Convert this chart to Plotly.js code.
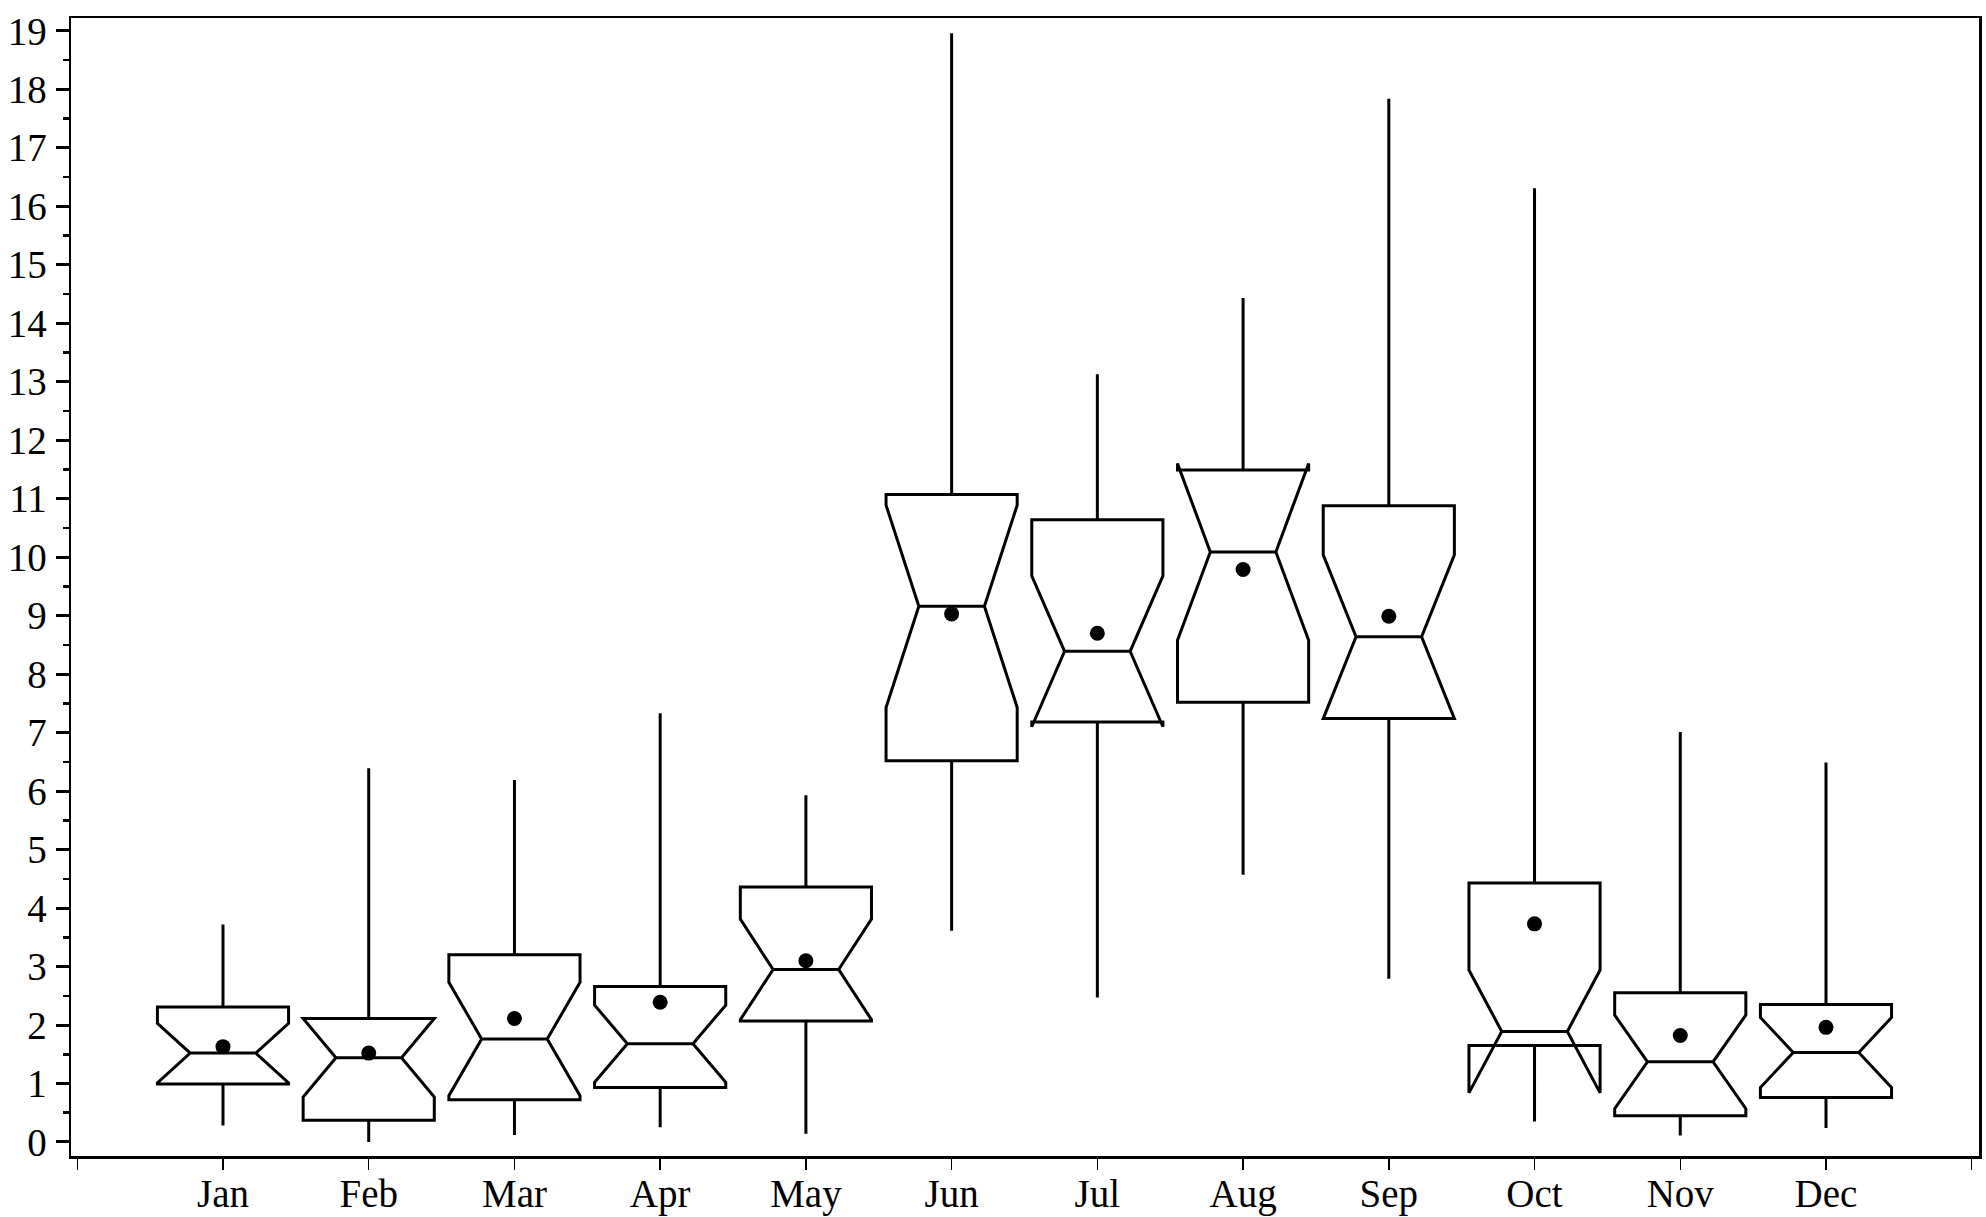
<!DOCTYPE html>
<html>
<head>
<meta charset="utf-8">
<script src="https://cdn.plot.ly/plotly-3.0.1.min.js"></script>
<style>
  html, body { margin: 0; padding: 0; background: #fff; }
  #chart { width: 1986px; height: 1217px; }
</style>
</head>
<body>
<div id="chart"></div>
<script>
// monthly box statistics
var months = ['Jan', 'Feb', 'Mar', 'Apr', 'May', 'Jun', 'Jul', 'Aug', 'Sep', 'Oct', 'Nov', 'Dec'];
var monthPos = [1, 2, 3, 4, 5, 6, 7, 8, 9, 10, 11, 12];
var q1Vals     = [0.99, 0.37, 0.72, 0.93, 2.07, 6.52, 7.18, 7.52, 7.24, 1.65, 0.45, 0.76];
var medianVals = [1.52, 1.44, 1.76, 1.68, 2.95, 9.16, 8.39, 10.09, 8.64, 1.89, 1.37, 1.53];
var q3Vals     = [2.31, 2.11, 3.20, 2.66, 4.36, 11.07, 10.64, 11.49, 10.88, 4.43, 2.55, 2.35];
var lowVals    = [0.28, 0.00, 0.12, 0.25, 0.14, 3.61, 2.47, 4.57, 2.79, 0.35, 0.11, 0.24];
var highVals   = [3.72, 6.39, 6.19, 7.33, 5.93, 18.96, 13.13, 14.43, 17.84, 16.31, 7.01, 6.49];
var notchVals  = [0.51, 0.67, 0.97, 0.66, 0.86, 1.73, 1.29, 1.51, 1.40, 1.05, 0.80, 0.60];
var meanVals   = [1.63, 1.52, 2.11, 2.39, 3.10, 9.03, 8.70, 9.79, 8.99, 3.73, 1.82, 1.96];

// tick labels: blank ticks at both ends of the axis
var xTickVals = [0].concat(monthPos, [13]);
var xTickText = [''].concat(months, ['']);
var yTickVals = [];
for (var i = 0; i <= 19; i++) {
  yTickVals.push(i);
}

var boxes = {
  type: 'box',
  x: monthPos,
  q1: q1Vals,
  median: medianVals,
  q3: q3Vals,
  lowerfence: lowVals,
  upperfence: highVals,
  notchspan: notchVals,
  notched: true,
  notchwidth: 0.25,
  width: 0.9,
  whiskerwidth: 0,
  boxpoints: false,
  line: {color: '#000', width: 3},
  fillcolor: 'rgba(0,0,0,0)',
  showlegend: false,
  hoverinfo: 'skip'
};

var means = {
  type: 'scatter',
  mode: 'markers',
  x: monthPos,
  y: meanVals,
  marker: {color: '#000', size: 15},
  showlegend: false,
  hoverinfo: 'skip'
};

var layout = {
  width: 1986,
  height: 1217,
  margin: {l: 71, r: 7, t: 18, b: 61},
  paper_bgcolor: '#fff',
  plot_bgcolor: '#fff',
  font: {family: '"Liberation Serif", "Times New Roman", serif', size: 39, color: '#000'},
  xaxis: {
    range: [-0.043, 13.05],
    tickmode: 'array',
    tickvals: xTickVals,
    ticktext: xTickText,
    ticks: 'outside',
    ticklen: 11,
    tickwidth: 1.5,
    tickcolor: '#000',
    ticklabelstandoff: -9,
    showline: true,
    linecolor: '#000',
    linewidth: 2.5,
    mirror: true,
    showgrid: false,
    zeroline: false
  },
  yaxis: {
    range: [-0.24, 19.22],
    tickmode: 'array',
    tickvals: yTickVals,
    ticks: 'outside',
    ticklen: 13,
    tickwidth: 3,
    tickcolor: '#000',
    ticklabelstandoff: 1,
    minor: {dtick: 0.5, ticks: 'outside', ticklen: 6, tickwidth: 2.5, tickcolor: '#000'},
    showline: true,
    linecolor: '#000',
    linewidth: 2.5,
    mirror: true,
    showgrid: false,
    zeroline: false
  }
};

Plotly.newPlot('chart', [boxes, means], layout, {staticPlot: true});
</script>
</body>
</html>
